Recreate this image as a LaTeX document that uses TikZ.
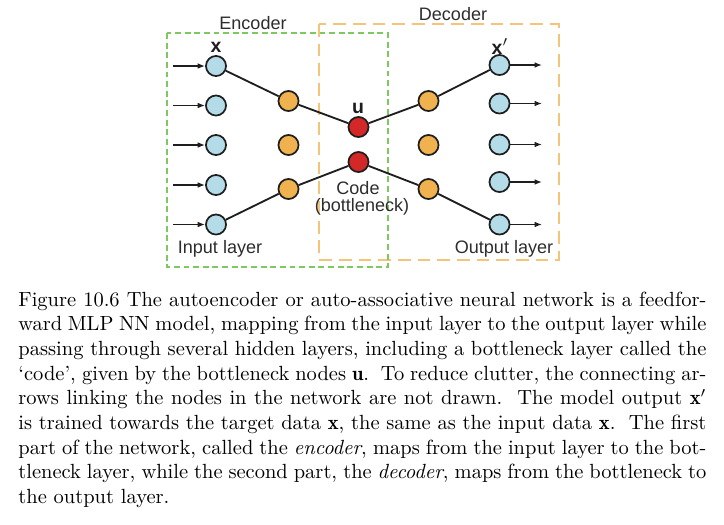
\documentclass[tikz,border=0pt]{standalone}
\usepackage{fontspec}
\newfontfamily\diagfont{Liberation Sans}
\usetikzlibrary{arrows.meta}
\definecolor{nodeblue}{RGB}{180,220,232}
\definecolor{nodeorange}{RGB}{240,178,78}
\definecolor{nodered}{RGB}{212,40,40}
\definecolor{encgreen}{RGB}{125,200,95}
\definecolor{decorange}{RGB}{244,196,122}
\definecolor{ink}{RGB}{30,30,30}
\definecolor{labelgray}{RGB}{45,45,45}
\tikzset{
  unit/.style={circle,draw=ink,line width=0.85pt,minimum size=9.8pt,inner sep=0pt},
  inunit/.style={unit,fill=nodeblue},
  hidunit/.style={unit,fill=nodeorange},
  codeunit/.style={unit,fill=nodered},
  link/.style={draw=ink,line width=0.9pt},
  feed/.style={draw=ink,line width=0.7pt,-{Latex[length=3.6pt,width=2.8pt]}},
  lbl/.style={text=labelgray,font=\fontsize{8.8}{9.5}\diagfont,inner sep=0pt,anchor=base},
  boldlbl/.style={text=ink,font=\fontsize{9.5}{10}\diagfont\bfseries,inner sep=0pt,anchor=base},
  encbox/.style={draw=encgreen,line width=0.7pt,dash pattern=on 2.9pt off 1.8pt},
  decbox/.style={draw=decorange,line width=0.8pt,dash pattern=on 6.2pt off 3.4pt},
}
\begin{document}
\begin{tikzpicture}[x=0.4878pt,y=-0.4878pt]
\useasboundingbox (0,0) rectangle (724,524);
% boxes
\draw[decbox] (319,24) rectangle (559,260);
\draw[encbox] (167,33) rectangle (388,267);
% labels
\node[lbl] (enclbl) at (253,29.5) {Encoder};
\node[lbl] (declbl) at (453,20.5) {Decoder};
\node[boldlbl] (xlbl) at (216,52.5) {x};
\node[boldlbl] (xplbl) at (500,54) {x$'$};
\node[boldlbl] (ulbl) at (358,113) {u};
\node[lbl] (codelbl) at (358,194) {Code};
\node[lbl] (bnlbl) at (362,211.5) {(bottleneck)};
\node[lbl] (inlbl) at (220,253.5) {Input layer};
\node[lbl] (outlbl) at (504,253.5) {Output layer};
% input layer
\foreach \i/\y in {1/66,2/105.5,3/145,4/185,5/224.5}{
  \node[inunit] (in\i) at (216,\y) {};
  \coordinate (src\i) at (173,\y);
  \draw[feed] (src\i) -- (in\i);
}
% output layer
\foreach \i/\y in {1/65,2/103.5,3/144.5,4/182,5/224.5}{
  \node[inunit] (out\i) at (499.5,\y) {};
  \coordinate (dst\i) at (542,\y);
  \draw[feed] (out\i) -- (dst\i);
}
% hidden layers
\foreach \i/\y in {1/101,2/145,3/189}{
  \node[hidunit] (ha\i) at (288.5,\y) {};
  \node[hidunit] (hb\i) at (428.5,\y) {};
}
% bottleneck
\node[codeunit] (u1) at (358.5,127) {};
\node[codeunit] (u2) at (358.5,162) {};
% links
\draw[link] (in1) -- (ha1) -- (u1) -- (hb1) -- (out1);
\draw[link] (in5) -- (ha3) -- (u2) -- (hb3) -- (out5);
% caption
\node[anchor=base west,inner sep=0pt] (caption) at (18,306) {\parbox[t]{335.6pt}{\fontsize{10}{12.05}\selectfont
\makebox[\linewidth][s]{Figure 10.6 The autoencoder or auto-associative neural network is a feedfor-}\\
\makebox[\linewidth][s]{ward MLP NN model, mapping from the input layer to the output layer while}\\
\makebox[\linewidth][s]{passing through several hidden layers, including a bottleneck layer called the}\\
\makebox[\linewidth][s]{`code', given by the bottleneck nodes $\mathbf{u}$.\ \ To reduce clutter, the connecting ar-}\\
\makebox[\linewidth][s]{rows linking the nodes in the network are not drawn.\ \ The model output $\mathbf{x}'$}\\
\makebox[\linewidth][s]{is trained towards the target data $\mathbf{x}$, the same as the input data $\mathbf{x}$.\ \ The first}\\
\makebox[\linewidth][s]{part of the network, called the \emph{encoder}, maps from the input layer to the bot-}\\
\makebox[\linewidth][s]{tleneck layer, while the second part, the \emph{decoder}, maps from the bottleneck to}\\
the output layer.}};
\end{tikzpicture}
\end{document}
